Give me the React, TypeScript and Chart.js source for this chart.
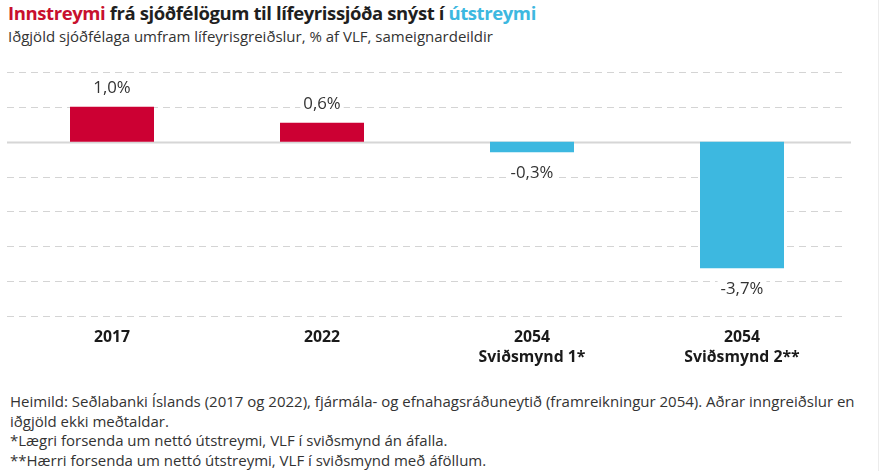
import React, { useEffect, useRef } from "react";
import { Chart, registerables } from "chart.js";

Chart.register(...registerables);

const categories: string[][] = [["2017"], ["2022"], ["2054", "Sviðsmynd 1*"], ["2054", "Sviðsmynd 2**"]];
const values: number[] = [1.0, 0.54, -0.3, -3.63];
const valueLabels: string[] = ["1,0%", "0,6%", "-0,3%", "-3,7%"];
const barColors: string[] = ["#CC0033", "#CC0033", "#3DB8E0", "#3DB8E0"];
const yMin = -5;
const yMax = 2;

const FONT = "'Open Sans', 'Noto Sans', sans-serif";

const gridPlugin = {
  id: "customGrid",
  beforeDatasetsDraw(chart: any) {
    const { ctx, chartArea, scales } = chart;
    const y = scales.y;
    ctx.save();
    y.ticks.forEach((t: any) => {
      const py = Math.round(y.getPixelForValue(t.value)) + 0.5;
      ctx.beginPath();
      if (t.value === 0) {
        ctx.setLineDash([]);
        ctx.strokeStyle = "#d6d6d6";
        ctx.lineWidth = 2;
        ctx.moveTo(chartArea.left, py);
        ctx.lineTo(chartArea.right + 4, py);
      } else {
        ctx.setLineDash([7, 5]);
        ctx.strokeStyle = "#d4d4d4";
        ctx.lineWidth = 1.2;
        ctx.moveTo(chartArea.left, py);
        ctx.lineTo(chartArea.right, py);
      }
      ctx.stroke();
    });
    ctx.restore();
  },
};

const labelPlugin = {
  id: "valueLabels",
  afterDatasetsDraw(chart: any) {
    const { ctx } = chart;
    const meta = chart.getDatasetMeta(0);
    ctx.save();
    ctx.font = `400 16.8px ${FONT}`;
    ctx.textAlign = "center";
    ctx.textBaseline = "middle";
    meta.data.forEach((bar: any, i: number) => {
      const v = values[i];
      const text = valueLabels[i];
      const cy = v >= 0 ? bar.y - 19 : bar.y + 21;
      const w = ctx.measureText(text).width + 6;
      ctx.fillStyle = "#ffffff";
      ctx.fillRect(bar.x - w / 2, cy - 10, w, 20);
      ctx.fillStyle = "#333333";
      ctx.fillText(text, bar.x, cy);
    });
    ctx.restore();
  },
};

export default function App() {
  const ref = useRef<HTMLCanvasElement | null>(null);

  useEffect(() => {
    document.body.style.margin = "0";
    if (!ref.current) return;
    const chart = new Chart(ref.current, {
      type: "bar",
      data: {
        labels: categories,
        datasets: [
          {
            data: values,
            backgroundColor: barColors,
            borderWidth: 0,
            categoryPercentage: 1,
            barPercentage: 0.4,
          },
        ],
      },
      options: {
        animation: false,
        responsive: false,
        maintainAspectRatio: false,
        layout: { padding: { left: 7, right: 33, top: 22, bottom: 0 } },
        plugins: {
          legend: { display: false },
          tooltip: { enabled: false },
          title: { display: false },
        },
        scales: {
          x: {
            grid: { display: false, drawTicks: false },
            border: { display: false },
            ticks: {
              color: "#1a1a1a",
              padding: 12,
              maxRotation: 0,
              autoSkip: false,
              font: { family: FONT, size: 15.8, weight: "bold", lineHeight: 1.27 },
            },
          },
          y: {
            display: false,
            min: yMin,
            max: yMax,
            ticks: { stepSize: 1 },
          },
        },
      },
      plugins: [gridPlugin, labelPlugin],
    });
    return () => chart.destroy();
  }, []);

  return (
    <div style={{ position: "relative", width: 880, height: 471, background: "#fff", overflow: "hidden", fontFamily: FONT }}>
      <div style={{ position: "absolute", left: 8, top: 0, fontSize: 18.5, letterSpacing: -0.4, fontWeight: 700, color: "#1f1f1f", whiteSpace: "nowrap", lineHeight: "26px" }}>
        <span style={{ color: "#C8102E" }}>Innstreymi</span> frá sjóðfélögum til lífeyrissjóða snýst í{" "}
        <span style={{ color: "#3DB8E0" }}>útstreymi</span>
      </div>
      <div style={{ position: "absolute", left: 8, top: 26, fontSize: 15, color: "#333", whiteSpace: "nowrap", lineHeight: "20px" }}>
        Iðgjöld sjóðfélaga umfram lífeyrisgreiðslur, % af VLF, sameignardeildir
      </div>
      <canvas ref={ref} width={880} height={330} style={{ position: "absolute", left: 0, top: 50, width: 880, height: 330 }} />
      <div style={{ position: "absolute", left: 10, top: 392, fontSize: 15, color: "#333", whiteSpace: "nowrap", lineHeight: "19.5px" }}>
        Heimild: Seðlabanki Íslands (2017 og 2022), fjármála- og efnahagsráðuneytið (framreikningur 2054). Aðrar inngreiðslur en
        <br />
        iðgjöld ekki meðtaldar.
        <br />
        *Lægri forsenda um nettó útstreymi, VLF í sviðsmynd án áfalla.
        <br />
        **Hærri forsenda um nettó útstreymi, VLF í sviðsmynd með áföllum.
      </div>
      <div style={{ position: "absolute", left: 878, top: 0, width: 1, height: 471, background: "#ececec" }} />
    </div>
  );
}
